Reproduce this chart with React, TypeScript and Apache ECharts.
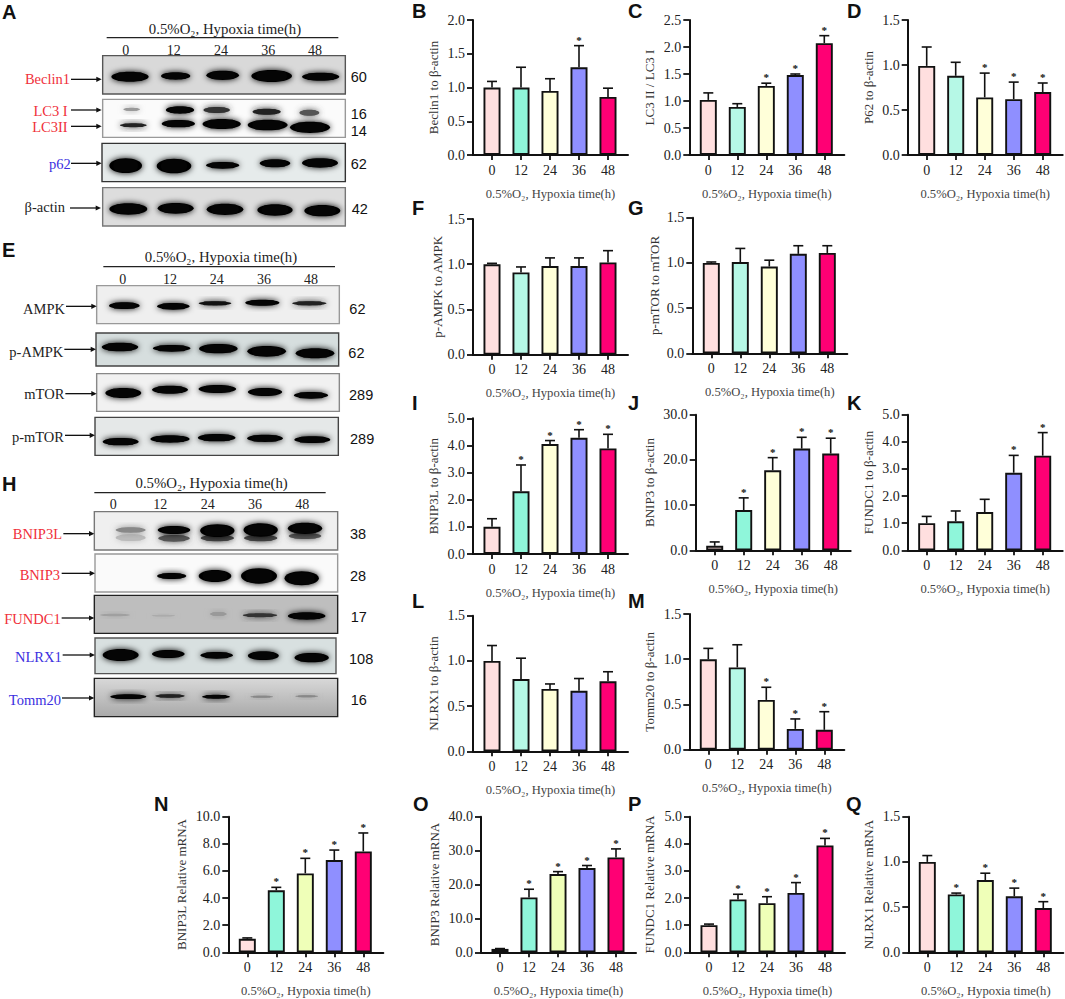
import React, { useEffect, useRef } from "react";
import * as echarts from "echarts";

const hours = ["0", "12", "24", "36", "48"];
const xTitle = "0.5%O₂, Hypoxia time(h)";

const beclinMeans = [1.0, 1.0, 0.95, 1.3, 0.86];
const beclinTops = [1.09, 1.3, 1.13, 1.62, 0.99];
const beclinStars = [0, 0, 0, 1, 0];
const lc3Means = [1.02, 0.89, 1.28, 1.48, 2.07];
const lc3Tops = [1.15, 0.95, 1.33, 1.5, 2.21];
const lc3Stars = [0, 0, 1, 1, 1];
const p62Means = [0.99, 0.88, 0.64, 0.62, 0.7];
const p62Tops = [1.2, 1.03, 0.91, 0.81, 0.8];
const p62Stars = [0, 0, 1, 1, 1];
const ampkMeans = [1.0, 0.91, 0.98, 0.98, 1.02];
const ampkTops = [1.01, 0.97, 1.07, 1.07, 1.15];
const mtorMeans = [1.0, 1.01, 0.96, 1.1, 1.11];
const mtorTops = [1.01, 1.16, 1.03, 1.19, 1.19];
const noStars = [0, 0, 0, 0, 0];
const bnip3lMeans = [1.0, 2.31, 4.05, 4.28, 3.89];
const bnip3lTops = [1.3, 3.28, 4.18, 4.58, 4.41];
const bnip3lStars = [0, 1, 1, 1, 1];
const bnip3Means = [1.0, 8.9, 17.7, 22.5, 21.4];
const bnip3Tops = [1.85, 11.6, 20.5, 25.0, 24.8];
const bnip3Stars = [0, 1, 1, 1, 1];
const fundc1Means = [1.0, 1.07, 1.41, 2.86, 3.49];
const fundc1Tops = [1.25, 1.45, 1.88, 3.5, 4.34];
const fundc1Stars = [0, 0, 0, 1, 1];
const nlrx1Means = [1.0, 0.8, 0.69, 0.67, 0.775];
const nlrx1Tops = [1.17, 1.03, 0.745, 0.805, 0.88];
const tommMeans = [1.0, 0.91, 0.55, 0.23, 0.22];
const tommTops = [1.12, 1.16, 0.69, 0.34, 0.42];
const tommStars = [0, 0, 1, 1, 1];
const mBnip3lMeans = [1.0, 4.57, 5.82, 6.8, 7.44];
const mBnip3lTops = [1.06, 4.79, 6.93, 7.54, 8.8];
const mBnip3Means = [1.0, 16.2, 23.1, 24.85, 28.0];
const mBnip3Tops = [1.1, 18.6, 23.8, 25.6, 30.5];
const mFundc1Means = [1.0, 1.95, 1.81, 2.19, 3.94];
const mFundc1Tops = [1.04, 2.14, 2.05, 2.57, 4.2];
const mNlrx1Means = [1.0, 0.64, 0.8, 0.62, 0.49];
const mNlrx1Tops = [1.07, 0.655, 0.875, 0.71, 0.56];
const mRnaStars = [0, 1, 1, 1, 1];

const TEAL = "#8FF6DA";
const MINT = "#B6F8E6";
const CREAM = "#FFFFD9";
const LIME = "#EFFFB8";

// letter, y title, means, tops, stars, max, interval, x0, top, bottom, name gap, teal, yellow
const charts: any[] = [
  ["B", "Beclin1 to β-actin", beclinMeans, beclinTops, beclinStars, 2, 0.5, 473, 20, 155, 40, TEAL, CREAM],
  ["C", "LC3 II / LC3 I", lc3Means, lc3Tops, lc3Stars, 2.5, 0.5, 689.3, 20, 155, 40, MINT, CREAM],
  ["D", "P62 to β-actin", p62Means, p62Tops, p62Stars, 1.5, 0.5, 907.7, 20, 155, 40, MINT, CREAM],
  ["F", "p-AMPK to AMPK", ampkMeans, ampkTops, noStars, 1.5, 0.5, 473, 219, 354.7, 36, MINT, CREAM],
  ["G", "p-mTOR to mTOR", mtorMeans, mtorTops, noStars, 1.5, 0.5, 692.3, 217.7, 353.3, 38, MINT, CREAM],
  ["I", "BNIP3L to β-actin", bnip3lMeans, bnip3lTops, bnip3lStars, 5, 1, 473, 418.3, 554, 40, TEAL, CREAM],
  ["J", "BNIP3 to β-actin", bnip3Means, bnip3Tops, bnip3Stars, 30, 10, 695.7, 414.7, 550.3, 47, TEAL, CREAM],
  ["K", "FUNDC1 to β-actin", fundc1Means, fundc1Tops, fundc1Stars, 5, 1, 907.7, 414.7, 550.3, 40, TEAL, CREAM],
  ["L", "NLRX1 to β-actin", nlrx1Means, nlrx1Tops, noStars, 1.5, 0.5, 473, 615.7, 751.3, 40, MINT, CREAM],
  ["M", "Tomm20 to β-actin", tommMeans, tommTops, tommStars, 1.5, 0.5, 689.3, 614, 749.7, 40, MINT, CREAM],
  ["N", "BNIP3L Relative mRNA", mBnip3lMeans, mBnip3lTops, mRnaStars, 10, 2, 228.3, 816.7, 952.3, 47.6, TEAL, LIME],
  ["O", "BNIP3 Relative mRNA", mBnip3Means, mBnip3Tops, mRnaStars, 40, 10, 481, 816.7, 952.3, 47, TEAL, LIME],
  ["P", "FUNDC1 Relative mRNA", mFundc1Means, mFundc1Tops, mRnaStars, 5, 1, 690, 816.7, 952.3, 41, TEAL, LIME],
  ["Q", "NLRX1 Relative mRNA", mNlrx1Means, mNlrx1Tops, mRnaStars, 1.5, 0.5, 908.3, 816.7, 952.3, 40, TEAL, LIME],
];

const letters: any[] = [
  ["A", 2, 12], ["B", 412, 11], ["C", 628, 11], ["D", 847, 11],
  ["E", 2, 250], ["F", 412, 208], ["G", 628, 208], ["H", 2, 484],
  ["I", 412, 403], ["J", 628, 403], ["K", 847, 403], ["L", 412, 601],
  ["M", 628, 601], ["N", 154, 804], ["O", 413, 804], ["P", 628, 804], ["Q", 846, 804],
];

// Blots: coordinates are in 3x-zoom units relative to the block's y origin.
const blots: any[] = [
  {
    oy: 0, title: [675, 87], rule: [320, 1015, 113], laneY: 150, lanes: [377, 521, 663, 805, 945],
    rows: [
      { box: [308, 167, 1036, 282], bg: "#D9D9D9", edge: "#555", label: ["Beclin1", 210, 237, "#F0303A"], arrow: [[213, 305, 238]], sizes: [["60", 1052, 231]],
        bands: [[390, 230, 112, 30], [527, 228, 88, 22], [668, 226, 98, 28], [815, 228, 122, 36], [962, 230, 112, 24]] },
      { box: [308, 298, 1036, 412], bg: "#FBFBFB", edge: "#999", label: ["LC3 I", 203, 333, "#F0303A"], label2: ["LC3II", 203, 381, "#F0303A"], arrow: [[213, 305, 330], [213, 305, 379]], sizes: [["16", 1052, 341], ["14", 1052, 393]],
        bands: [[395, 328, 50, 10, "#999"], [540, 330, 85, 22], [650, 330, 80, 18, "#333"], [800, 335, 85, 18, "#222"], [928, 338, 60, 18, "#555"],
          [400, 376, 80, 12, "#222"], [535, 371, 100, 22], [665, 372, 115, 30], [803, 375, 120, 32], [930, 382, 120, 34]] },
      { box: [306, 430, 1036, 545], bg: "#E6EBEB", edge: "#333", label: ["p62", 212, 491, "#3B2FE0"], arrow: [[213, 305, 490]], sizes: [["62", 1052, 491]],
        bands: [[377, 497, 98, 44], [522, 498, 104, 44], [668, 496, 100, 20], [825, 490, 92, 24], [960, 489, 108, 28]] },
      { box: [308, 563, 1036, 678], bg: "#DDDDDD", edge: "#777", label: ["β-actin", 195, 620, "#222"], arrow: [[210, 303, 624]], sizes: [["42", 1055, 627]],
        bands: [[385, 627, 114, 34], [527, 625, 108, 32], [675, 628, 110, 34], [825, 630, 106, 34], [967, 632, 108, 34]] },
    ],
  },
  {
    oy: 235, title: [663, 65], rule: [310, 1005, 95], laneY: 132, lanes: [368, 510, 650, 792, 933],
    rows: [
      { box: [290, 152, 1018, 266], bg: "#EFEFEF", edge: "#999", label: ["AMPK", 195, 222, "#222"], arrow: [[198, 290, 214]], sizes: [["62", 1048, 222]],
        bands: [[373, 212, 92, 20], [520, 214, 98, 20], [645, 205, 98, 13, "#111"], [787, 203, 103, 18], [928, 205, 103, 13, "#222"]] },
      { box: [288, 294, 1016, 393], bg: "#D6DEDE", edge: "#444", label: ["p-AMPK", 190, 350, "#222"], arrow: [[193, 288, 343]], sizes: [["62", 1045, 355]],
        bands: [[360, 336, 110, 26], [515, 340, 113, 20], [655, 341, 116, 28], [800, 349, 116, 32], [945, 355, 116, 30]] },
      { box: [290, 416, 1018, 529], bg: "#F1F1F1", edge: "#888", label: ["mTOR", 193, 478, "#222"], arrow: [[196, 290, 476]], sizes: [["289", 1047, 479]],
        bands: [[370, 474, 108, 30], [510, 464, 108, 24], [652, 462, 113, 24], [795, 471, 103, 24], [933, 481, 103, 20]] },
      { box: [285, 547, 1015, 661], bg: "#E5E8E8", edge: "#444", label: ["p-mTOR", 192, 606, "#222"], arrow: [[195, 285, 601]], sizes: [["289", 1050, 612]],
        bands: [[362, 620, 108, 22], [510, 612, 118, 22], [650, 608, 113, 22], [795, 610, 108, 22], [937, 614, 108, 20]] },
    ],
  },
  {
    oy: 470, title: [635, 38], rule: [283, 977, 68], laneY: 103, lanes: [340, 481, 623, 765, 907],
    rows: [
      { box: [283, 125, 1013, 240], bg: "#EFEFEF", edge: "#777", label: ["BNIP3L", 186, 193, "#F0303A"], arrow: [[190, 283, 191]], sizes: [["38", 1050, 193]],
        bands: [[392, 203, 90, 20, "#BBB"], [392, 180, 90, 16, "#888"], [522, 205, 95, 20, "#555"], [522, 180, 98, 24], [652, 204, 100, 20, "#444"], [652, 182, 103, 38], [782, 204, 100, 20, "#444"], [782, 180, 103, 40], [915, 198, 98, 18, "#555"], [915, 175, 103, 34]] },
      { box: [285, 252, 1013, 366], bg: "#FAFAFA", edge: "#999", label: ["BNIP3", 180, 316, "#F0303A"], arrow: [[185, 285, 310]], sizes: [["28", 1050, 319]],
        bands: [[515, 318, 88, 18], [645, 318, 98, 36], [777, 318, 108, 46], [905, 325, 103, 42]] },
      { box: [283, 376, 1013, 490], bg: "#BEBEBE", edge: "#222", label: ["FUNDC1", 182, 447, "#F0303A"], arrow: [[185, 283, 444]], sizes: [["17", 1052, 442]],
        bands: [[345, 435, 90, 8, "#A0A0A0"], [490, 437, 70, 5, "#ABABAB"], [655, 432, 50, 12, "#999"], [780, 436, 103, 12, "#333"], [920, 438, 113, 22]] },
      { box: [285, 504, 1008, 611], bg: "#D8E0E0", edge: "#555", label: ["NLRX1", 185, 560, "#3B2FE0"], arrow: [[188, 285, 555]], sizes: [["108", 1047, 566]],
        bands: [[362, 555, 108, 36], [505, 552, 98, 24], [650, 556, 98, 20], [790, 557, 93, 26], [935, 563, 103, 28]] },
      { box: [283, 625, 1013, 740], bg: { type: "linear", x: 0, y: 0, x2: 0, y2: 1, colorStops: [{ offset: 0, color: "#D8D8D8" }, { offset: 1, color: "#A9A9A9" }] }, edge: "#222", label: ["Tomm20", 183, 690, "#3B2FE0"], arrow: [[186, 283, 684]], sizes: [["16", 1052, 690]],
        bands: [[385, 680, 108, 14], [510, 678, 88, 10, "#222"], [648, 680, 83, 12], [785, 680, 68, 6, "#888"], [920, 679, 68, 6, "#888"]] },
    ],
  },
];

const SERIF = '"Liberation Serif"';
const SANS = '"Liberation Sans"';

function text(t: string, x: number, y: number, font: string, fill: string, align = "left") {
  return {
    type: "text", x, y, z: 5,
    style: { text: t, font, fill, align, textAlign: align, verticalAlign: "middle", textVerticalAlign: "middle" },
  };
}

function buildGraphic() {
  const els: any[] = [];
  letters.forEach(([l, x, y]) => els.push(text(l, x, y, `bold 20px ${SANS}`, "#111")));
  blots.forEach((b) => {
    const Y = (v: number) => b.oy + v / 3;
    els.push(text(xTitle, b.title[0] / 3, Y(b.title[1]), `14.8px ${SERIF}`, "#222", "center"));
    els.push({ type: "line", z: 4, shape: { x1: b.rule[0] / 3, y1: Y(b.rule[2]), x2: b.rule[1] / 3, y2: Y(b.rule[2]) }, style: { stroke: "#222", lineWidth: 1.2 } });
    b.lanes.forEach((lx: number, i: number) => els.push(text(hours[i], lx / 3, Y(b.laneY), `14px ${SERIF}`, "#222", "center")));
    b.rows.forEach((r: any) => {
      const [x1, y1, x2, y2] = r.box;
      els.push({
        type: "rect", z: 1,
        shape: { x: x1 / 3, y: Y(y1), width: (x2 - x1) / 3, height: (y2 - y1) / 3 },
        style: { fill: r.bg, stroke: r.edge, lineWidth: 1.4 },
      });
      r.bands.forEach(([cx, cy, w, h, col]: any[]) => {
        const color = col || "#050505";
        const soft = { fill: color, shadowColor: color, shadowBlur: 6 };
        els.push({
          type: "ellipse", z: 2,
          shape: { cx: cx / 3, cy: Y(cy), rx: w / 6, ry: h / 6 },
          style: soft,
        });
        els.push({
          type: "rect", z: 2,
          shape: { x: (cx - w * 0.38) / 3, y: Y(cy - h * 0.42), width: (w * 0.76) / 3, height: (h * 0.84) / 3, r: (h * 0.42) / 3 },
          style: { fill: color },
        });
      });
      [r.label, r.label2].filter(Boolean).forEach((l: any[]) =>
        els.push(text(l[0], l[1] / 3, Y(l[2]), `14.5px ${SERIF}`, l[3], "right")),
      );
      r.arrow.forEach(([a, e, y]: number[]) => {
        els.push({ type: "line", z: 4, shape: { x1: a / 3, y1: Y(y), x2: (e - 6) / 3, y2: Y(y) }, style: { stroke: "#111", lineWidth: 1.3 } });
        els.push({ type: "polygon", z: 4, shape: { points: [[e / 3, Y(y)], [(e - 16) / 3, Y(y) - 2.6], [(e - 16) / 3, Y(y) + 2.6]] }, style: { fill: "#111" } });
      });
      r.sizes.forEach(([t, x, y]: any[]) => els.push(text(t, x / 3, Y(y), `14.5px ${SANS}`, "#111")));
    });
  });
  return els;
}

function renderError(params: any, api: any) {
  const x = api.value(0);
  const base = api.coord([x, api.value(1)]);
  const tip = api.coord([x, api.value(2)]);
  const children: any[] = [
    { type: "line", shape: { x1: base[0], y1: base[1], x2: tip[0], y2: tip[1] }, style: { stroke: "#111", lineWidth: 1.6 } },
    { type: "line", shape: { x1: tip[0] - 5, y1: tip[1], x2: tip[0] + 5, y2: tip[1] }, style: { stroke: "#111", lineWidth: 1.6 } },
  ];
  if (api.value(3)) {
    children.push({
      type: "text", x: tip[0], y: tip[1] - 6,
      style: { text: "*", font: `bold 11px ${SERIF}`, fill: "#111", align: "center", verticalAlign: "middle", textAlign: "center", textVerticalAlign: "middle" },
    });
  }
  return { type: "group", children };
}

function buildOption() {
  const grid: any[] = [], xAxis: any[] = [], yAxis: any[] = [], series: any[] = [];
  const SPAN = 155, STEP = 29, LEAD = 19;
  charts.forEach((c, i) => {
    const [, yName, means, tops, stars, max, interval, x0, top, bottom, gap, teal, yellow] = c;
    const palette = ["#FFDFDF", teal, yellow, "#8F8FFF", "#FF0074"];
    grid.push({ left: x0, top, width: SPAN, height: bottom - top, containLabel: false });
    xAxis.push({
      type: "value", gridIndex: i, min: -LEAD / STEP, max: (SPAN - LEAD) / STEP,
      name: xTitle, nameLocation: "middle", nameGap: 32,
      nameTextStyle: { fontFamily: SERIF, fontSize: 12.6, color: "#444" },
      splitLine: { show: false },
      axisLine: { show: true, onZero: false, lineStyle: { color: "#111", width: 2 } },
      axisTick: { show: true, length: 5, customValues: [0, 1, 2, 3, 4], lineStyle: { color: "#111", width: 1.8 } },
      axisLabel: { margin: 8, fontFamily: SERIF, fontSize: 14, color: "#222", customValues: [0, 1, 2, 3, 4], formatter: (v: number) => hours[v] },
    });
    yAxis.push({
      type: "value", gridIndex: i, min: 0, max, interval,
      name: yName, nameLocation: "middle", nameGap: gap - 7, nameRotate: 90,
      nameTextStyle: { fontFamily: SERIF, fontSize: 13, color: "#333" },
      splitLine: { show: false },
      axisLine: { show: true, onZero: false, lineStyle: { color: "#111", width: 2 } },
      axisTick: { show: true, length: 6, lineStyle: { color: "#111", width: 1.8 } },
      axisLabel: { margin: 8, fontFamily: SERIF, fontSize: 14, color: "#222", formatter: (v: number) => v.toFixed(1) },
    });
    series.push({
      type: "bar", xAxisIndex: i, yAxisIndex: i, barWidth: 17, z: 3,
      data: means.map((m: number, k: number) => ({
        value: [k, m],
        itemStyle: { color: palette[k], borderColor: "#111", borderWidth: 1.9 },
      })),
    });
    series.push({
      type: "custom", xAxisIndex: i, yAxisIndex: i, z: 2, clip: false,
      renderItem: renderError,
      encode: { x: 0, y: 2 },
      data: means.map((m: number, k: number) => [k, m, tops[k], stars[k]]),
    });
  });
  return { animation: false, backgroundColor: "#fff", grid, xAxis, yAxis, series, graphic: { elements: buildGraphic() } };
}

export default function App() {
  const ref = useRef<HTMLDivElement>(null);
  useEffect(() => {
    const chart = echarts.init(ref.current as HTMLDivElement, undefined, { renderer: "svg" });
    chart.setOption(buildOption() as any);
    return () => chart.dispose();
  }, []);
  return <div ref={ref} style={{ position: "absolute", left: 0, top: 0, width: 1065, height: 999 }} />;
}
